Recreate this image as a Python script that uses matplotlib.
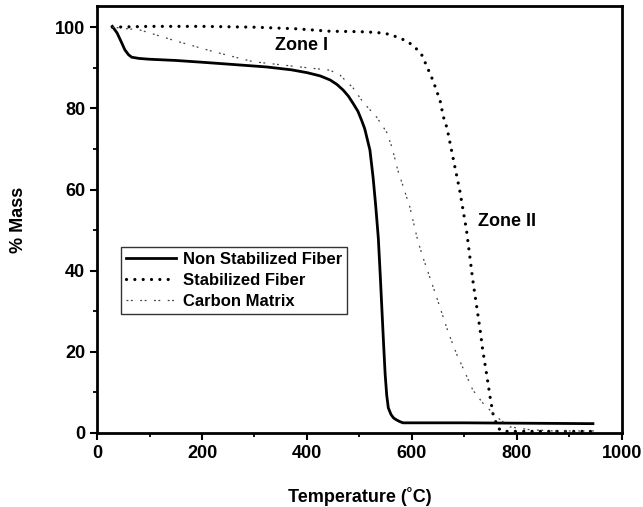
import matplotlib
matplotlib.use("Agg")
import matplotlib.pyplot as plt
from matplotlib.ticker import MultipleLocator

plt.rcParams['font.family'] = ['Liberation Sans', 'DejaVu Sans']
plt.rcParams['font.weight'] = 'bold'

# Non Stabilized Fiber
ns_T = [29, 38, 46, 53, 60, 66, 80, 100, 150, 196, 260, 323, 370, 400, 425, 444, 457, 469, 479, 488, 497, 504, 510, 514, 520, 526, 531, 536, 540, 543, 546, 549, 552, 555, 560, 565, 571, 577, 583, 700, 945]
ns_M = [100.2, 98.6, 96.4, 94.4, 93.2, 92.6, 92.3, 92.1, 91.8, 91.4, 90.8, 90.2, 89.5, 88.8, 88.0, 87.0, 85.9, 84.5, 83.0, 81.2, 79.3, 77.1, 75.0, 72.9, 69.7, 63.0, 56.0, 48.0, 38.0, 30.0, 22.0, 14.5, 9.3, 6.2, 4.6, 3.7, 3.2, 2.8, 2.5, 2.5, 2.3]

# Stabilized Fiber
sf_T = [29, 100, 200, 300, 380, 444, 500, 533, 555, 571, 590, 605, 619, 630, 640, 648, 655, 659, 667, 672, 682, 691, 704, 716, 730, 735, 742, 749, 755, 762, 768, 780, 850, 950]
sf_M = [100.0, 100.2, 100.2, 100.0, 99.6, 99.0, 98.9, 98.7, 98.3, 97.6, 96.6, 95.2, 93.1, 89.9, 86.9, 84.0, 81.3, 78.3, 75.1, 71.9, 65.5, 59.9, 50.0, 37.7, 25.4, 20.4, 14.8, 8.9, 4.4, 2.0, 0.7, 0.4, 0.4, 0.4]

# Carbon Matrix
cm_T = [29, 82, 145, 221, 297, 387, 444, 463, 488, 507, 533, 552, 562, 573, 584, 596, 611, 621, 647, 669, 686, 701, 716, 735, 762, 787, 825, 870, 950]
cm_M = [100.0, 99.3, 96.8, 94.0, 91.5, 90.2, 89.4, 88.2, 85.0, 81.5, 77.8, 74.1, 70.4, 64.8, 60.5, 55.7, 47.5, 43.3, 33.5, 24.9, 19.2, 15.0, 10.6, 7.4, 3.9, 1.5, 0.8, 0.5, 0.5]

labels = ['Non Stabilized Fiber', 'Stabilized Fiber', 'Carbon Matrix']

fig = plt.figure(figsize=(6.43, 5.07), dpi=100)
ax = fig.add_axes([0.151, 0.146, 0.816, 0.842])

ax.plot(ns_T, ns_M, color='black', lw=2.0, ls='-', label=labels[0])
ax.plot(sf_T, sf_M, color='black', lw=2.3, ls=(0, (0.01, 2.6)), dash_capstyle='round', label=labels[1])
ax.plot(cm_T, cm_M, color='#444444', lw=0.9, ls=(0, (1.5, 2, 1.5, 6)), label=labels[2])

ax.set_xlim(0, 1000)
ax.set_ylim(0, 105.2)
ax.xaxis.set_major_locator(MultipleLocator(200))
ax.xaxis.set_minor_locator(MultipleLocator(100))
ax.yaxis.set_major_locator(MultipleLocator(20))
ax.yaxis.set_minor_locator(MultipleLocator(10))
ax.tick_params(which='major', direction='out', length=5, width=1.5, labelsize=13)
ax.tick_params(which='minor', direction='out', length=3, width=1.3)
for s in ax.spines.values():
    s.set_linewidth(2.0)
for lab in ax.get_xticklabels() + ax.get_yticklabels():
    lab.set_fontweight('bold')

ax.set_xlabel('Temperature (˚C)', fontsize=13, fontweight='bold', labelpad=18)
ax.set_ylabel('% Mass', fontsize=13, fontweight='bold', labelpad=20)

ax.text(390, 95.6, 'Zone I', fontsize=13, fontweight='bold', ha='center', va='center')
ax.text(781, 52, 'Zone II', fontsize=13, fontweight='bold', ha='center', va='center')

leg = ax.legend(loc='lower left', bbox_to_anchor=(0.046, 0.279), fontsize=12,
                frameon=True, fancybox=False, edgecolor='black', handlelength=3.0,
                handletextpad=0.4, borderpad=0.3, labelspacing=0.35, borderaxespad=0)
leg.get_frame().set_linewidth(1.0)
for t in leg.get_texts():
    t.set_fontweight('bold')

fig.savefig('out.png', dpi=100)
